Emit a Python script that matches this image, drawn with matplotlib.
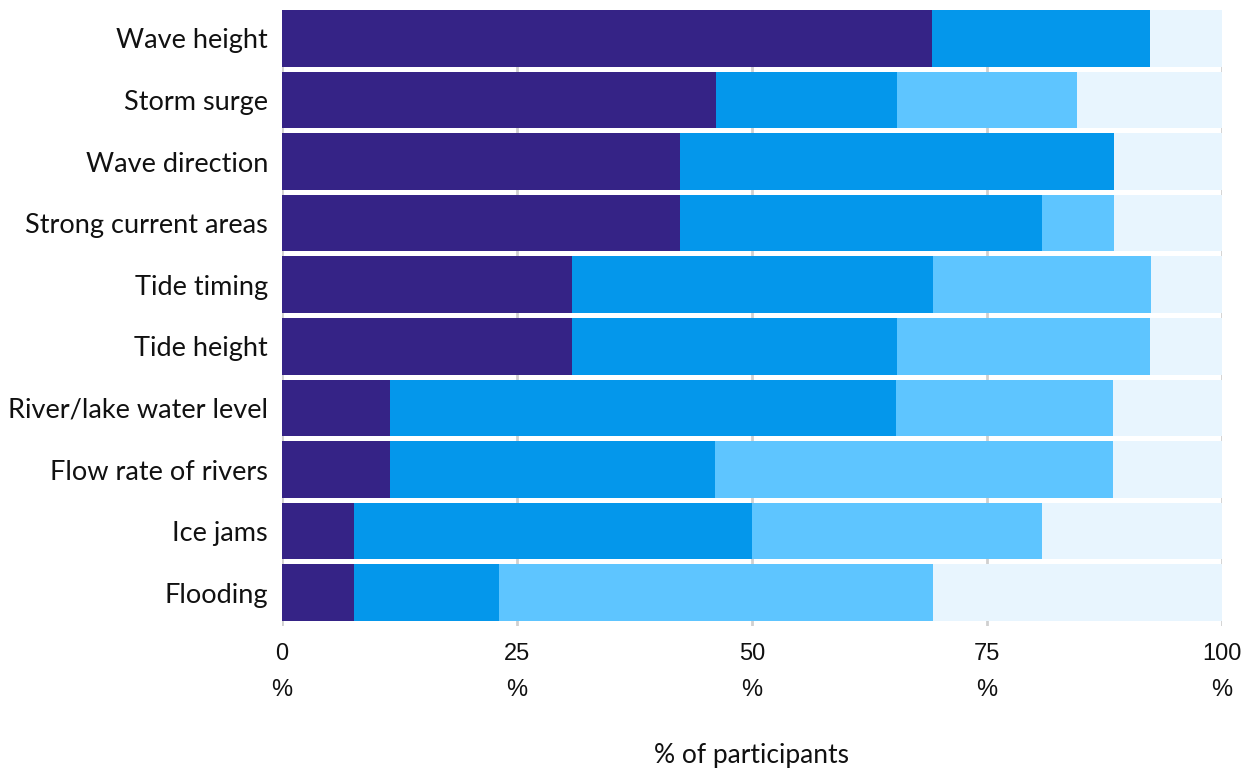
import matplotlib
matplotlib.use("Agg")
import matplotlib.pyplot as plt
import numpy as np

categories = [
    "Wave height", "Storm surge", "Wave direction", "Strong current areas",
    "Tide timing", "Tide height", "River/lake water level",
    "Flow rate of rivers", "Ice jams", "Flooding",
]
# share of participants (%) in each response group, out of 26
level_1 = [69.2, 46.2, 42.3, 42.3, 30.8, 30.8, 11.5, 11.5, 7.7, 7.7]
level_2 = [23.1, 19.2, 46.2, 38.5, 38.5, 34.6, 53.8, 34.6, 42.3, 15.4]
level_3 = [0.0, 19.2, 0.0, 7.7, 23.1, 26.9, 23.1, 42.3, 30.8, 46.2]
level_4 = [7.7, 15.4, 11.5, 11.5, 7.6, 7.7, 11.6, 11.6, 19.2, 30.7]
x_ticks = [0, 25, 50, 75, 100]
x_ticklabels = ["0\n%", "25\n%", "50\n%", "75\n%", "100\n%"]

series = [level_1, level_2, level_3, level_4]
colors = ["#352386", "#0497EB", "#5EC5FF", "#E8F5FE"]

fig = plt.figure(figsize=(12.55, 7.69), dpi=100)
ax = fig.add_axes([282 / 1255, 1 - 626 / 769, 940 / 1255, 616 / 769])

y = np.arange(len(categories))
left = np.zeros(len(categories))
for vals, col in zip(series, colors):
    ax.barh(y, vals, left=left, height=0.92, color=col, edgecolor="none", zorder=2)
    left += np.array(vals)

ax.set_xlim(0, 100)
ax.set_ylim(len(categories) - 0.46, -0.46)
ax.set_yticks(y)
ax.set_yticklabels(categories, fontsize=19.5, family="Lato", color="#111111")
ax.set_xticks(x_ticks)
ax.set_xticklabels(x_ticklabels, fontsize=17, family="Liberation Sans",
                   color="#111111", linespacing=1.85)
ax.tick_params(axis="both", length=0)
ax.tick_params(axis="y", pad=10)
ax.tick_params(axis="x", pad=12)
ax.xaxis.grid(True, color="#d0d0d0", linewidth=2, zorder=0)
ax.set_axisbelow(True)
for s in ax.spines.values():
    s.set_visible(False)

ax.set_xlabel("% of participants", fontsize=19, family="Lato",
              color="#111111", labelpad=30)

fig.savefig("out.png", dpi=100, facecolor="white")
